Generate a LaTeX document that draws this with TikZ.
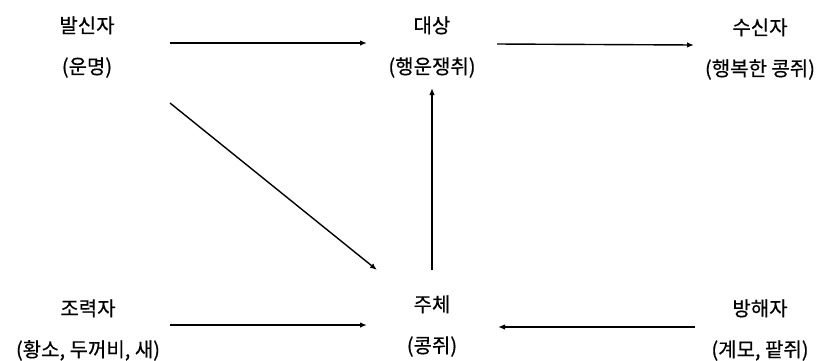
\documentclass[tikz,border=0pt]{standalone}
\usepackage{fontspec}
\newfontfamily\kr[FakeBold=0.4]{Noto Sans CJK KR}
\usetikzlibrary{arrows.meta,calc}
\tikzset{
  actor/.style={align=center, inner sep=0pt, font=\kr\fontsize{20}{41}\selectfont},
  arr/.style={line width=1.4pt, -{Latex[length=7pt,width=5.5pt]}}
}
\begin{document}
\begin{tikzpicture}[x=1pt,y=-1pt]
\useasboundingbox (0,0) rectangle (822,360);
\node[actor] (sender)   at (87,47)  {발신자\\(운명)};
\node[actor] (object)   at (432,47) {대상\\(행운쟁취)};
\node[actor] (receiver) at (760,49) {수신자\\(행복한 콩쥐)};
\node[actor] (helper)   at (88,330) {조력자\\(황소, 두꺼비, 새)};
\node[actor] (subject)  at (432,326) {주체\\(콩쥐)};
\node[actor] (opponent) at (760,330) {방해자\\(계모, 팥쥐)};
\draw[arr] ($(sender)+(83,-4)$) -- ($(object)+(-65,-4)$);
\draw[arr] ($(object)+(65,-3)$) -- ($(receiver)+(-66,-4)$);
\draw[arr] ($(sender)+(83,56)$) -- ($(subject)+(-55,-56)$);
\draw[arr] ($(subject)+(0,-56)$) -- ($(object)+(0,41)$);
\draw[arr] ($(helper)+(82,-5)$) -- ($(subject)+(-65,-1)$);
\draw[arr] ($(opponent)+(-65,-3)$) -- ($(subject)+(66,1)$);
\end{tikzpicture}
\end{document}
